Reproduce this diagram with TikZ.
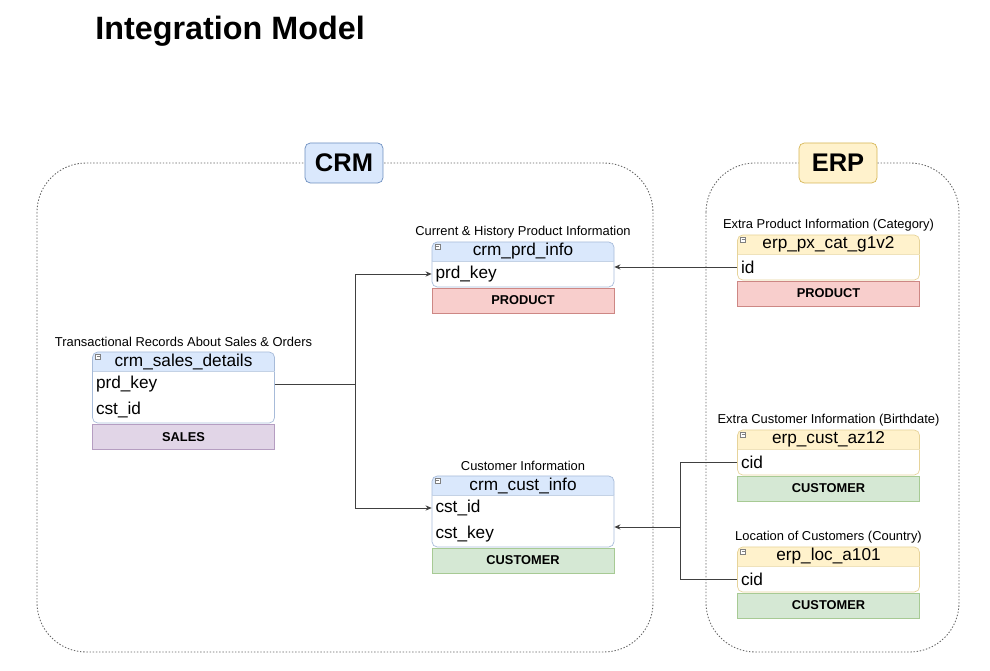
\documentclass[tikz,border=0pt]{standalone}
\usepackage{fontspec}
\setmainfont{Liberation Sans}
\usetikzlibrary{arrows.meta}

\definecolor{crmFill}{HTML}{DAE8FC}
\definecolor{crmLine}{HTML}{6C8EBF}
\definecolor{erpFill}{HTML}{FFF2CC}
\definecolor{erpLine}{HTML}{D6B656}
\definecolor{prdFill}{HTML}{F8CECC}
\definecolor{prdLine}{HTML}{B85450}
\definecolor{custFill}{HTML}{D5E8D4}
\definecolor{custLine}{HTML}{82B366}
\definecolor{salesFill}{HTML}{E1D5E7}
\definecolor{salesLine}{HTML}{9673A6}

% table frame: name, centre x, top y, body height, colour, caption, title
\newcommand{\dbtable}[7]{%
  \node[myCap] (#1-cap) at (#2,#3-10) {#6};
  \filldraw[fill=#5Fill, draw=#5Line!60, rounded corners=3pt]
    (#2-91,#3+19) -- (#2-91,#3) -- (#2+91,#3) -- (#2+91,#3+19);
  \draw[draw=#5Line!60, rounded corners=3pt]
    (#2-91,#3+19) -- (#2-91,#3+19+#4) -- (#2+91,#3+19+#4) -- (#2+91,#3+19);
  \draw[draw=#5Line!40] (#2-91,#3+19) -- (#2+91,#3+19);
  \draw[gray, fill=white, line width=0.3pt] (#2-88,#3+2.5) rectangle (#2-83,#3+7);
  \draw[gray, line width=0.3pt] (#2-87,#3+4.75) -- (#2-84,#3+4.75);
  \node[myHead] (#1) at (#2,#3+9.5) {#7};
}

\begin{document}
\begin{tikzpicture}[x=0.02cm, y=-0.02cm]
  \tikzstyle{myCap}=[inner sep=0pt, font=\fontsize{7.35}{9}\selectfont]
  \tikzstyle{myHead}=[inner sep=0pt, font=\fontsize{9.8}{11}\selectfont]
  \tikzstyle{myRow}=[text width=3.5cm, inner xsep=0.07cm, inner ysep=0pt,
                     minimum height=0.52cm, align=left, font=\fontsize{9.8}{11}\selectfont]
  \tikzstyle{myCat}=[draw, minimum width=3.64cm, minimum height=0.5cm, inner sep=0pt,
                     font=\bfseries\fontsize{7.3}{9}\selectfont]
  \tikzstyle{myGroup}=[draw, rounded corners=3pt, minimum width=1.56cm, minimum height=0.8cm,
                       inner sep=0pt, font=\bfseries\fontsize{14.5}{17}\selectfont]
  \tikzstyle{myFrame}=[black!60, line width=0.5pt, dash pattern=on 0.8pt off 1pt, rounded corners=28pt]
  \tikzstyle{myLink}=[black!75, line width=0.5pt]
  \tikzstyle{myArrow}=[myLink, -{Stealth[length=3.5pt, width=3pt]}]

  \useasboundingbox (0,0) rectangle (990,671);

  \node[anchor=west, inner sep=0pt, font=\bfseries\fontsize{18.4}{22}\selectfont]
    (title) at (95,31) {Integration Model};

  % source systems
  \draw[myFrame] (37,163) rectangle (653,652);
  \draw[myFrame] (706,163) rectangle (959,652);
  \node[myGroup, fill=crmFill, draw=crmLine] (crm) at (344,163) {CRM};
  \node[myGroup, fill=erpFill, draw=erpLine] (erp) at (838,163) {ERP};

  % CRM tables
  \dbtable{prdinfo}{523}{242}{26}{crm}{Current \& History Product Information}{crm\_prd\_info}
  \node[myRow] (prdinfo-key) at (523,274) {prd\_key};
  \node[myCat, fill=prdFill, draw=prdLine!70] (prdinfo-cat) at (523,300.5) {PRODUCT};

  \dbtable{sales}{183.5}{352}{52}{crm}{Transactional Records About Sales \& Orders}{crm\_sales\_details}
  \node[myRow] (sales-prd) at (183.5,384) {prd\_key};
  \node[myRow] (sales-cst) at (183.5,410) {cst\_id};
  \node[myCat, fill=salesFill, draw=salesLine!70] (sales-cat) at (183.5,437) {SALES};

  \dbtable{custinfo}{523}{476}{52}{crm}{Customer Information}{crm\_cust\_info}
  \node[myRow] (custinfo-id) at (523,508) {cst\_id};
  \node[myRow] (custinfo-key) at (523,534) {cst\_key};
  \node[myCat, fill=custFill, draw=custLine!70] (custinfo-cat) at (523,560.5) {CUSTOMER};

  % ERP tables
  \dbtable{pxcat}{828.5}{235}{26}{erp}{Extra Product Information (Category)}{erp\_px\_cat\_g1v2}
  \node[myRow] (pxcat-id) at (828.5,267) {id};
  \node[myCat, fill=prdFill, draw=prdLine!70] (pxcat-cat) at (828.5,293.5) {PRODUCT};

  \dbtable{custaz}{828.5}{430}{26}{erp}{Extra Customer Information (Birthdate)}{erp\_cust\_az12}
  \node[myRow] (custaz-cid) at (828.5,462) {cid};
  \node[myCat, fill=custFill, draw=custLine!70] (custaz-cat) at (828.5,488.5) {CUSTOMER};

  \dbtable{loc}{828.5}{547}{26}{erp}{Location of Customers (Country)}{erp\_loc\_a101}
  \node[myRow] (loc-cid) at (828.5,579) {cid};
  \node[myCat, fill=custFill, draw=custLine!70] (loc-cat) at (828.5,605.5) {CUSTOMER};

  % relations
  \coordinate (split) at (355,384);
  \coordinate (merge) at (680,527);
  \draw[myLink] (sales-prd.east) -- (split);
  \draw[myArrow] (split) |- (prdinfo-key.west);
  \draw[myArrow] (split) |- (custinfo-id.west);
  \draw[myArrow] (pxcat-id.west) -- (pxcat-id.west -| prdinfo-key.east);
  \draw[myLink] (custaz-cid.west) -| (merge);
  \draw[myLink] (loc-cid.west) -| (merge);
  \draw[myArrow] (merge) -- (merge -| custinfo-key.east);
\end{tikzpicture}
\end{document}
